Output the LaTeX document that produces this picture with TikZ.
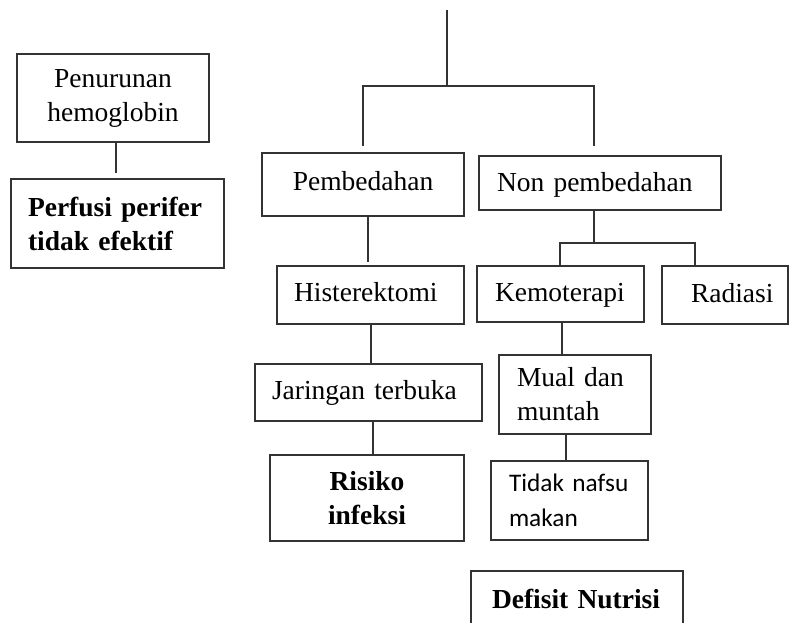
\documentclass[tikz,border=0pt]{standalone}
\usepackage{fontspec}
\setmainfont{Liberation Serif}
\newfontfamily\calfont{Carlito}
\begin{document}
\begin{tikzpicture}[x=1pt,y=-1pt,line width=1.1pt,
  every node/.style={font=\fontsize{27.5}{34}\selectfont, text=black},
  box/.style={draw=black!80, inner ysep=0pt},
  lb/.style={box, align=left},
  cb/.style={box, align=center, inner xsep=0pt},
  one/.style={text height=19pt, text depth=#1},
  bold/.style={font=\fontsize{27.5}{34}\selectfont\bfseries},
  link/.style={draw=black!80}]
\clip (0,0) rectangle (789,622);
% boxes
\node[cb, minimum width=192pt, minimum height=88pt] (pen) at (113,98) {Penurunan\\hemoglobin};
\node[lb, bold, minimum height=89pt, inner xsep=17pt, text width=179pt] (perf) at (117.5,223.5) {Perfusi~perifer\\tidak~efektif};
\node[cb, one=8pt, minimum width=202pt, minimum height=63pt] (pemb) at (363,184.5) {Pembedahan};
\node[lb, one=3pt, minimum height=54pt, inner xsep=18pt, text width=206pt] (nonp) at (600,183) {Non~pembedahan};
\node[lb, one=7pt, minimum height=58pt, inner xsep=17pt, text width=153pt] (hist) at (370.5,295) {Histerektomi};
\node[lb, one=4pt, minimum height=56pt, inner xsep=18pt, text width=131pt] (kemo) at (560.5,294) {Kemoterapi};
\node[lb, one=4pt, minimum height=58pt, inner xsep=29pt, text width=68pt] (rad) at (725,295) {Radiasi};
\node[lb, minimum height=57pt, inner xsep=17pt, text width=193pt] (jar) at (368.5,392.5) {Jaringan~terbuka};
\node[cb, bold, minimum width=194pt, minimum height=86pt] (risk) at (367,498) {Risiko\\infeksi};
\node[lb, minimum height=79pt, inner xsep=18pt, text width=116pt] (mual) at (575,394.5) {Mual~dan\\muntah};
\node[lb, minimum height=79pt, inner xsep=18pt, text width=121pt, font=\calfont\fontsize{25.3}{35}\selectfont] (tidak) at (569.5,500.5) {Tidak~nafsu\\makan};
\node[lb, bold, minimum height=56pt, inner xsep=21pt, text width=170pt] (def) at (577,599) {Defisit~Nutrisi};
% connectors
\coordinate (top) at (447,10);
\coordinate (j1) at (447,86);
\coordinate (j2) at (594,243);
\coordinate (j3) at (695,243);
\draw[link] (top) -- (j1);
\draw[link, shorten <=6pt] (pemb.north) |- (j1);
\draw[link, shorten >=9pt] (j1) -| ([xshift=-6pt]nonp.north);
\draw[link, shorten >=5pt] ([xshift=3pt]pen.south) -- ([xshift=3pt]pen.south |- perf.north);
\draw[link, shorten >=3pt] ([xshift=5pt]pemb.south) -- ([xshift=5pt]pemb.south |- hist.north);
\draw[link] ([xshift=-6pt]nonp.south) -- (j2);
\draw[link] ([xshift=-0.5pt]kemo.north) |- (j3) -- (j3 |- rad.north);
\draw[link] ([xshift=0.5pt]hist.south) -- ([xshift=0.5pt]hist.south |- jar.north);
\draw[link] ([xshift=4.5pt]jar.south) -- ([xshift=4.5pt]jar.south |- risk.north);
\draw[link] ([xshift=1.5pt]kemo.south) -- ([xshift=1.5pt]kemo.south |- mual.north);
\draw[link] ([xshift=-9pt]mual.south) -- ([xshift=-9pt]mual.south |- tidak.north);
\end{tikzpicture}
\end{document}
